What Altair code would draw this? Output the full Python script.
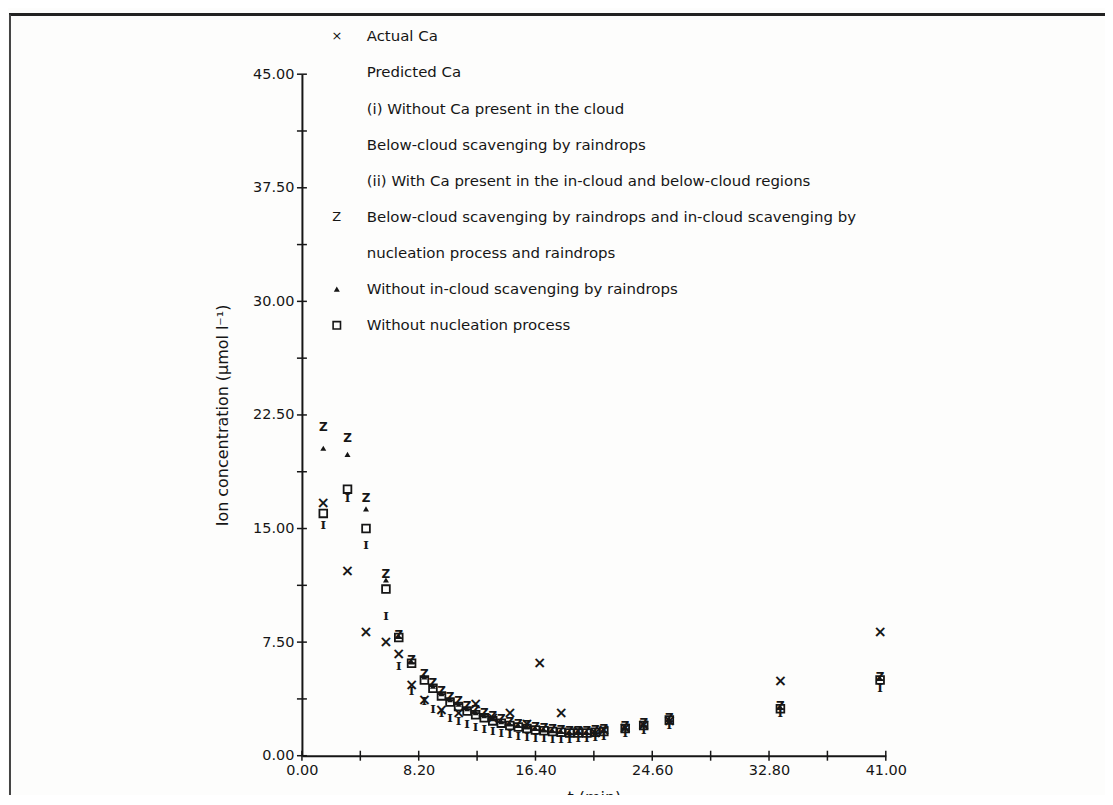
import altair as alt
import pandas as pd

# ---------------- data ----------------
t_actual = [1.5, 3.2, 4.5, 5.9, 6.8, 7.7, 8.6, 9.8, 11.0, 12.2, 13.4, 14.6,
            15.8, 16.7, 18.2, 19.4, 20.6, 21.2, 22.7, 24.0, 25.8, 33.6, 40.6]
ca_actual = [16.7, 12.2, 8.2, 7.5, 6.7, 4.7, 3.7, 3.0, 2.8, 3.4, 2.5, 2.8,
             2.1, 6.1, 2.8, 1.6, 1.5, 1.7, 1.8, 2.0, 2.3, 4.9, 8.2]

t_pred = [1.5, 3.2, 4.5, 5.9, 6.8, 7.7, 8.6, 9.2, 9.8, 10.4, 11.0, 11.6,
          12.2, 12.8, 13.4, 14.0, 14.6, 15.2, 15.8, 16.4, 17.0, 17.6, 18.2,
          18.8, 19.4, 20.0, 20.6, 21.2, 22.7, 24.0, 25.8, 33.6, 40.6]
# (i) below-cloud scavenging by raindrops only  ("I")
ca_below = [15.2, 17.0, 13.9, 9.2, 5.9, 4.3, 3.6, 3.1, 2.8, 2.5, 2.3, 2.1,
            1.9, 1.75, 1.6, 1.5, 1.4, 1.3, 1.25, 1.2, 1.15, 1.1, 1.1,
            1.1, 1.15, 1.2, 1.25, 1.3, 1.5, 1.7, 2.0, 2.8, 4.5]
# (ii) below-cloud + in-cloud scavenging by nucleation and raindrops ("Z")
ca_z = [21.7, 21.0, 17.0, 12.0, 8.0, 6.3, 5.4, 4.8, 4.3, 3.9, 3.6, 3.3,
        3.0, 2.8, 2.6, 2.4, 2.25, 2.1, 2.0, 1.9, 1.8, 1.75, 1.7,
        1.65, 1.65, 1.65, 1.7, 1.75, 1.95, 2.15, 2.5, 3.3, 5.2]
# without in-cloud scavenging by raindrops (triangle)
ca_tri = [20.3, 19.9, 16.3, 11.6, 7.9, 6.2, 5.2, 4.6, 4.1, 3.7, 3.4, 3.1,
          2.85, 2.65, 2.45, 2.25, 2.1, 2.0, 1.9, 1.8, 1.7, 1.65, 1.6,
          1.55, 1.55, 1.55, 1.6, 1.65, 1.85, 2.05, 2.4, 3.2, 5.1]
# without nucleation process (open square)
ca_sq = [16.0, 17.6, 15.0, 11.0, 7.8, 6.1, 5.0, 4.45, 3.95, 3.55, 3.25, 2.95,
         2.7, 2.5, 2.3, 2.15, 2.0, 1.9, 1.8, 1.7, 1.65, 1.6, 1.55,
         1.5, 1.5, 1.5, 1.55, 1.6, 1.8, 2.0, 2.35, 3.1, 5.0]

x_tick_values = [0, 4.1, 8.2, 12.3, 16.4, 20.5, 24.6, 28.7, 32.8, 36.9, 41.0]
y_tick_values = [0, 3.75, 7.5, 11.25, 15, 18.75, 22.5, 26.25, 30, 33.75,
                 37.5, 41.25, 45]
x_label_values = [0, 8.2, 16.4, 24.6, 32.8, 41.0]
y_label_values = [0, 7.5, 15, 22.5, 30, 37.5, 45]

legend_rows = [0, 1, 2, 3, 4, 5, 6, 7, 8]
legend_symbols = ["×", "", "", "", "", "Z", "", "tri", "sq"]
legend_labels = [
    "Actual Ca",
    "Predicted Ca",
    "(i) Without Ca present in the cloud",
    "Below-cloud scavenging by raindrops",
    "(ii) With Ca present in the in-cloud and below-cloud regions",
    "Below-cloud scavenging by raindrops and in-cloud scavenging by",
    "nucleation process and raindrops",
    "Without in-cloud scavenging by raindrops",
    "Without nucleation process",
]

# ---------------- styling ----------------
FONT = "DejaVu Sans"
INK = "#161616"
W, H = 586, 684

xs = alt.Scale(domain=[0, 41], nice=False, zero=False, padding=0)
ys = alt.Scale(domain=[0, 45], nice=False, zero=False, padding=0)

x_axis = alt.Axis(values=x_label_values, format=".2f", title="t (min)",
                  ticks=False, grid=False, labelPadding=8, labelFlush=False,
                  titleY=34, titleX=W / 2, titleBaseline="top")
y_axis = alt.Axis(values=y_label_values, format=".2f",
                  title="Ion concentration (µmol l⁻¹)",
                  ticks=False, grid=False, labelPadding=8, labelFlush=False,
                  titleX=-80, titleY=H / 2, titleAngle=270,
                  titleBaseline="middle", titleAlign="center")


def X(field):
    return alt.X(field, scale=xs, axis=x_axis, title="t (min)")


def Y(field):
    return alt.Y(field, scale=ys, axis=y_axis,
                 title="Ion concentration (µmol l⁻¹)")


actual = pd.DataFrame({"t": t_actual, "c": ca_actual})
below = pd.DataFrame({"t": t_pred, "c": ca_below})
zser = pd.DataFrame({"t": t_pred, "c": ca_z})
tri = pd.DataFrame({"t": t_pred, "c": ca_tri})
sq = pd.DataFrame({"t": t_pred, "c": ca_sq})

l_below = alt.Chart(below).mark_text(
    text="I", font="DejaVu Serif", fontSize=12, fontWeight="bold",
    color=INK, baseline="middle"
).encode(x=X("t:Q"), y=Y("c:Q"))

l_sq = alt.Chart(sq).mark_point(
    shape="square", filled=False, size=60, strokeWidth=1.8, color=INK,
    opacity=1
).encode(x=X("t:Q"), y=Y("c:Q"))

l_tri = alt.Chart(tri).mark_point(
    shape="triangle-up", filled=True, size=36, color=INK, opacity=1
).encode(x=X("t:Q"), y=Y("c:Q"))

l_z = alt.Chart(zser).mark_text(
    text="Z", font=FONT, fontSize=12, fontWeight="bold", color=INK,
    baseline="middle"
).encode(x=X("t:Q"), y=Y("c:Q"))

l_act = alt.Chart(actual).mark_text(
    text="×", font=FONT, fontSize=16, fontWeight="bold", color=INK,
    baseline="middle"
).encode(x=X("t:Q"), y=Y("c:Q"))

# crossing tick marks on the axes
xt = pd.DataFrame({"v": x_tick_values})
yt = pd.DataFrame({"v": y_tick_values})
l_xt = alt.Chart(xt).mark_rule(color=INK, strokeWidth=1.5).encode(
    x=X("v:Q"), y=alt.value(H - 5), y2=alt.value(H + 5))
l_yt = alt.Chart(yt).mark_rule(color=INK, strokeWidth=1.5).encode(
    y=Y("v:Q"), x=alt.value(-5), x2=alt.value(5))

# legend block
leg = pd.DataFrame({"row": legend_rows, "sym": legend_symbols,
                    "label": legend_labels})
leg_base = alt.Chart(leg).transform_calculate(py="datum.row * 36.25 - 38")
l_leg_text = leg_base.mark_text(
    align="left", baseline="middle", font=FONT, fontSize=15, color=INK
).encode(x=alt.value(65), y=alt.Y("py:Q", scale=None), text="label:N")
l_leg_chr = leg_base.transform_filter(
    "datum.sym == '×' || datum.sym == 'Z'"
).mark_text(align="center", baseline="middle", font=FONT, fontSize=13,
            color=INK).encode(x=alt.value(35), y=alt.Y("py:Q", scale=None),
                              text="sym:N")
l_leg_tri = leg_base.transform_filter("datum.sym == 'tri'").mark_point(
    shape="triangle-up", filled=True, size=36, color=INK, opacity=1
).encode(x=alt.value(35), y=alt.Y("py:Q", scale=None))
l_leg_sq = leg_base.transform_filter("datum.sym == 'sq'").mark_point(
    shape="square", filled=False, size=55, strokeWidth=1.6, color=INK,
    opacity=1
).encode(x=alt.value(35), y=alt.Y("py:Q", scale=None))

# scanned page frame (top and left edges)
frame_top = alt.Chart(pd.DataFrame({"k": [0]})).mark_rule(
    color="#222222", strokeWidth=3).encode(
    x=alt.value(-294), x2=alt.value(W + 220), y=alt.value(-60))
frame_left = alt.Chart(pd.DataFrame({"k": [0]})).mark_rule(
    color="#444444", strokeWidth=2).encode(
    x=alt.value(-293), y=alt.value(-60), y2=alt.value(H + 60))

chart = alt.layer(
    frame_top, frame_left,
    l_xt, l_yt,
    l_below, l_sq, l_tri, l_z, l_act,
    l_leg_text, l_leg_chr, l_leg_tri, l_leg_sq,
).properties(
    width=W, height=H,
    autosize=alt.AutoSizeParams(type="none"),
    padding={"left": 295, "top": 65, "right": 220, "bottom": 38},
    background="#fdfdfc",
).configure_view(
    strokeWidth=0
).configure_axis(
    domainColor=INK, domainWidth=2,
    labelFont=FONT, labelFontSize=14.5, labelColor=INK,
    titleFont=FONT, titleFontSize=16, titleFontWeight="normal", titleColor=INK,
)

chart.save("out.html", embed_options={"renderer": "svg", "actions": False})
